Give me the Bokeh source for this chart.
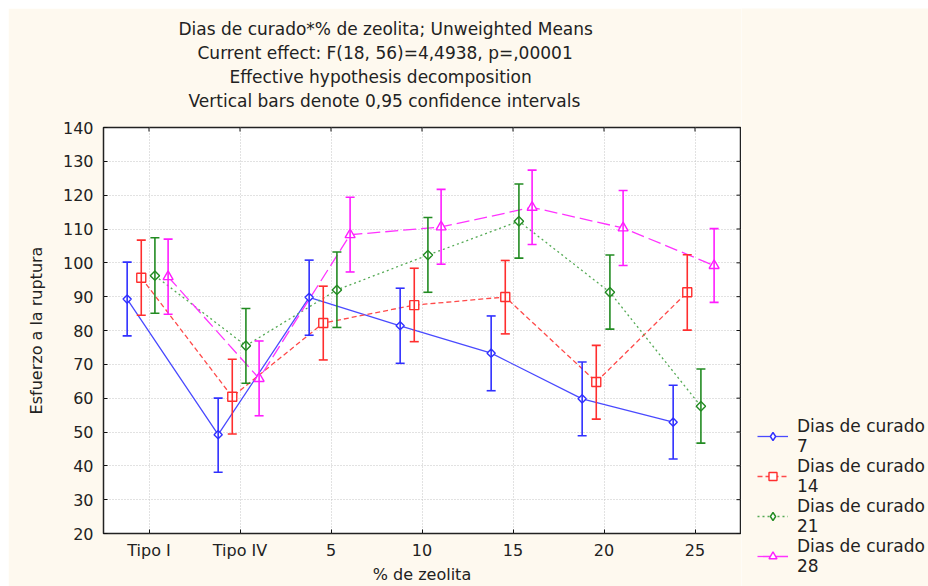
from bokeh.plotting import figure
from bokeh.layouts import row, column
from bokeh.models import (ColumnDataSource, Whisker, TeeHead, Legend, LegendItem,
                          FixedTicker, Title, Range1d)
from bokeh.embed import file_html
from bokeh.resources import INLINE
import math

# ---------------- data ----------------
categories = ["Tipo I", "Tipo IV", "5", "10", "15", "20", "25"]
series_names = ["Dias de curado\n7", "Dias de curado\n14", "Dias de curado\n21", "Dias de curado\n28"]

mean_7 = [89.3, 49.2, 89.8, 81.4, 73.3, 59.8, 52.9]
low_7 = [78.4, 38.1, 78.6, 70.3, 62.2, 48.9, 42.0]
up_7 = [100.2, 60.0, 100.8, 92.5, 84.3, 70.7, 63.8]

mean_14 = [95.6, 60.4, 82.2, 87.5, 89.9, 64.8, 91.3]
low_14 = [84.5, 49.4, 71.3, 76.7, 79.0, 53.8, 80.1]
up_14 = [106.7, 71.5, 93.1, 98.4, 100.7, 75.6, 102.4]

mean_21 = [96.2, 75.5, 92.0, 102.3, 112.3, 91.3, 57.6]
low_21 = [85.1, 64.4, 80.9, 91.3, 101.4, 80.4, 46.7]
up_21 = [107.4, 86.5, 103.2, 113.4, 123.3, 102.3, 68.6]

mean_28 = [95.9, 65.8, 108.3, 110.6, 116.4, 110.3, 99.2]
low_28 = [84.8, 54.8, 97.3, 99.6, 105.4, 99.2, 88.3]
up_28 = [107.0, 76.9, 119.4, 121.7, 127.4, 121.4, 110.1]

y_ticks = [20, 30, 40, 50, 60, 70, 80, 90, 100, 110, 120, 130, 140]
title_lines = [
    "Dias de curado*% de zeolita; Unweighted Means",
    "Current effect: F(18, 56)=4,4938, p=,00001",
    "Effective hypothesis decomposition",
    "Vertical bars denote 0,95 confidence intervals",
]

# ---------------- style ----------------
FONT = "DejaVu Sans"
CREAM = "#FEF9EF"
TXT = "#222222"
dodge = [-0.24, -0.085, 0.065, 0.21]
bar_colors = ["#3030FF", "#FF2E2E", "#228B22", "#FF1CFF"]
line_colors = ["#4A4AFF", "#FF4A4A", "#55AA55", "#FF33FF"]
line_dashes = ["solid", "5 3", "2 3", "13 5"]
markers = ["square", "square", "square", "triangle"]
legend_markers = ["diamond", "square", "diamond", "triangle"]
marker_sizes = [5.8, 9, 6.6, 10]
marker_angles = [math.pi / 4, 0, math.pi / 4, 0]
title_offsets = [75, 94, 126, 85]   # left offsets so each line is centred near x=385

p = figure(width=733, height=578, margin=(8, 0, 0, 8),
           x_range=Range1d(-0.5, 6.5), y_range=Range1d(20, 140),
           output_backend="svg", toolbar_location=None,
           min_border_left=95, min_border_right=1, min_border_top=119, min_border_bottom=0,
           background_fill_color="white", border_fill_color=CREAM,
           x_axis_label="% de zeolita", y_axis_label="Esfuerzo a la ruptura")
p.outline_line_color = "#222222"
p.outline_line_width = 1.5

xticker = FixedTicker(ticks=list(range(len(categories))))
yticker = FixedTicker(ticks=y_ticks)

xa = p.xaxis[0]
xa.ticker = xticker
xa.major_label_overrides = {i: c for i, c in enumerate(categories)}
ya = p.yaxis[0]
ya.ticker = yticker
for ax in (xa, ya):
    ax.axis_line_color = None
    ax.major_tick_in = 4
    ax.major_tick_out = 0
    ax.major_tick_line_color = "#111111"
    ax.minor_tick_line_color = None
    ax.major_label_text_font = FONT
    ax.major_label_text_font_size = "16px"
    ax.major_label_text_color = TXT
    ax.axis_label_text_font = FONT
    ax.axis_label_text_font_size = "16px"
    ax.axis_label_text_font_style = "normal"
    ax.axis_label_text_color = TXT
xa.major_label_standoff = 7
xa.axis_label_standoff = 2
ya.major_label_standoff = 10
ya.axis_label_standoff = 14

for g in (p.xgrid[0], p.ygrid[0]):
    g.grid_line_color = "#C4C4C4"
    g.grid_line_dash = "1 2"
    g.grid_line_width = 1
p.xgrid[0].ticker = xticker
p.ygrid[0].ticker = yticker

# inward tick marks on the top and right frame edges (outer half is clipped by the frame)
p.scatter(x=xticker.ticks, y=[y_ticks[-1]] * len(xticker.ticks), marker="dash", size=8,
          angle=math.pi / 2, line_color="#111111", line_width=1)
p.scatter(x=[p.x_range.end] * len(y_ticks), y=y_ticks, marker="dash", size=8,
          line_color="#111111", line_width=1)

means = [mean_7, mean_14, mean_21, mean_28]
lows = [low_7, low_14, low_21, low_28]
ups = [up_7, up_14, up_21, up_28]

sources = []
for k in range(4):
    xs = [i + dodge[k] for i in range(len(categories))]
    src = ColumnDataSource(dict(x=xs, y=means[k], lower=lows[k], upper=ups[k]))
    p.line("x", "y", source=src, line_color=line_colors[k], line_width=1.3,
           line_dash=line_dashes[k])
    w = Whisker(base="x", upper="upper", lower="lower", source=src,
                line_color=bar_colors[k], line_width=1.6, level="glyph",
                upper_head=TeeHead(size=9, line_color=bar_colors[k], line_width=1.6),
                lower_head=TeeHead(size=9, line_color=bar_colors[k], line_width=1.6))
    p.add_layout(w)
    sources.append(src)

for k, src in enumerate(sources):
    p.scatter("x", "y", source=src, marker=markers[k], size=marker_sizes[k],
              angle=marker_angles[k], fill_color="white", line_color=bar_colors[k],
              line_width=1.4)

# title lines: p.title is outermost; 'above' panels stack outward from the frame,
# the first one (a blank spacer) sits right on the frame
p.add_layout(Title(text="\u00a0", text_font=FONT, text_font_size="11px", standoff=1),
             "above")
p.title.text = title_lines[0]
p.title.align = "left"
p.title.offset = title_offsets[0]
p.title.text_font = FONT
p.title.text_font_size = "17px"
p.title.text_font_style = "normal"
p.title.text_color = TXT
p.title.standoff = 2
for i in (3, 2, 1):
    p.add_layout(Title(text=title_lines[i], align="left", offset=title_offsets[i],
                       text_font=FONT, text_font_size="17px", text_font_style="normal",
                       text_color=TXT, standoff=2), "above")

# ---------------- legend strip to the right of the plot ----------------
# the series are re-drawn here outside the visible ranges, only to feed the legend
lg = figure(width=187, height=578, margin=(8, 0, 0, 0), x_range=Range1d(-20, -19),
            y_range=Range1d(-20, -19), x_axis_type=None, y_axis_type=None,
            output_backend="svg", toolbar_location=None,
            min_border=0, background_fill_color=CREAM, border_fill_color=CREAM,
            outline_line_color=None)
lg.xgrid.visible = False
lg.ygrid.visible = False
items = []
for k, src in enumerate(sources):
    lr = lg.line("x", "y", source=src, line_color=line_colors[k], line_width=1.3,
                 line_dash=line_dashes[k])
    sr = lg.scatter("x", "y", source=src, marker=legend_markers[k], size=10,
                    fill_color="white", line_color=bar_colors[k], line_width=1.4)
    items.append(LegendItem(label=series_names[k], renderers=[lr, sr]))

legend = Legend(items=items, location=(16, 10), glyph_width=31, glyph_height=20,
                label_standoff=9, spacing=0, padding=0, margin=0,
                border_line_alpha=0, background_fill_alpha=0,
                label_text_font=FONT, label_text_font_size="17px", label_text_color=TXT,
                label_text_line_height=1.0)
lg.add_layout(legend)

layout = row(p, column(lg, spacing=0), spacing=0)
open("out.html", "w").write(file_html(layout, INLINE))
